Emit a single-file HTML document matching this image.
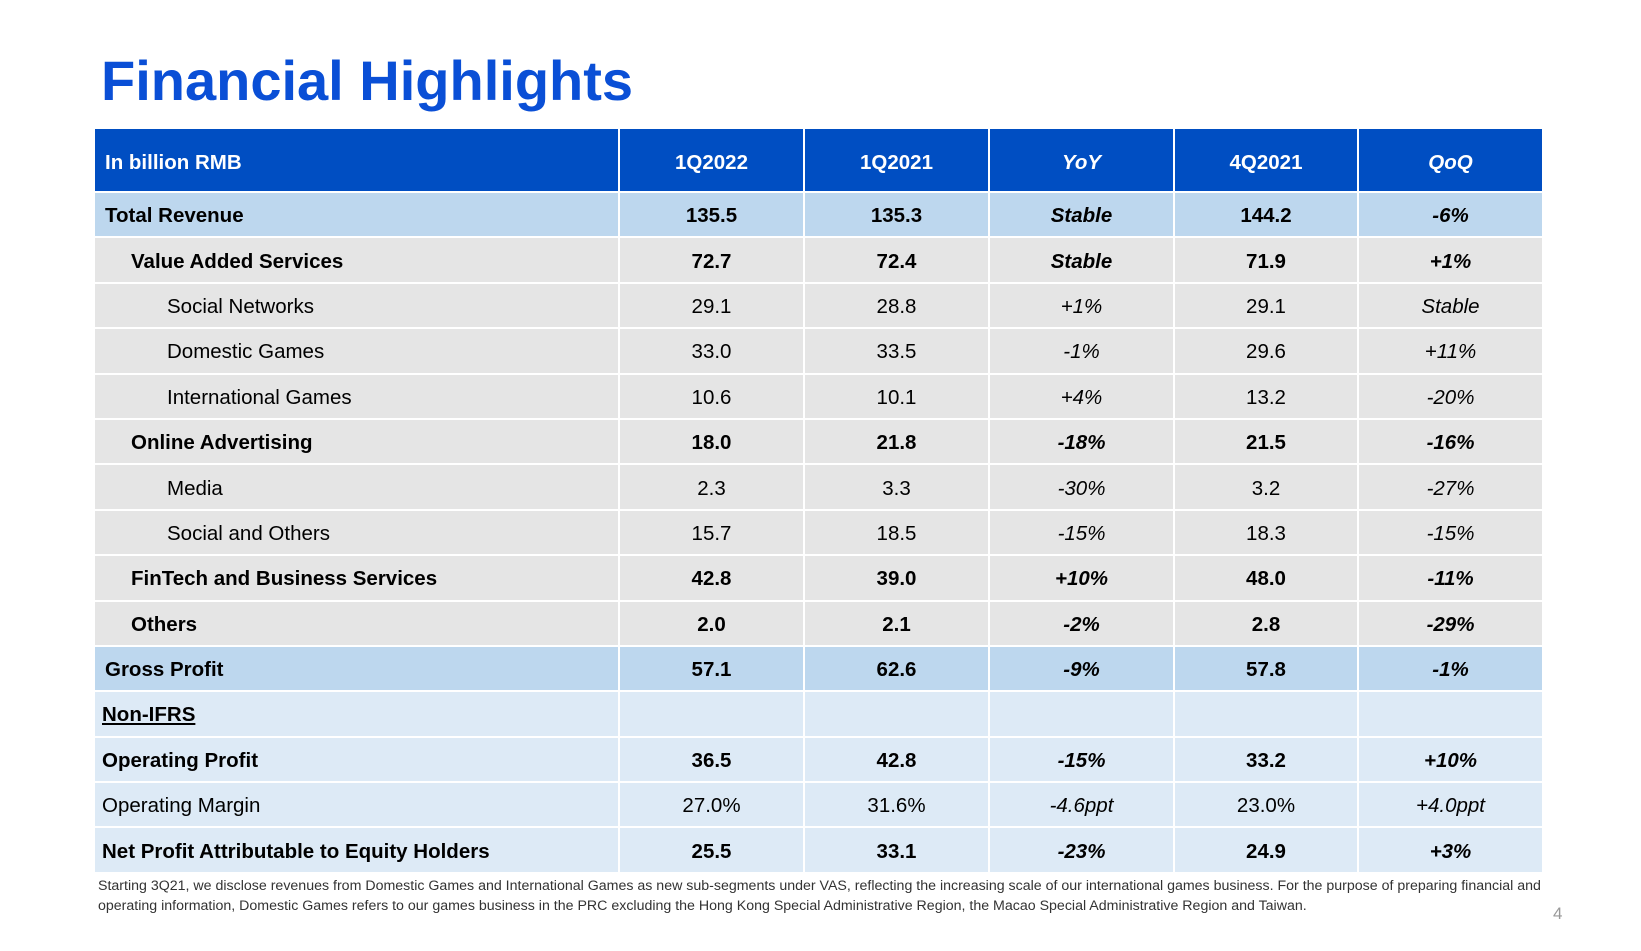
<!DOCTYPE html>
<html><head><meta charset="utf-8"><style>
body{margin:0;width:1641px;height:951px;background:#fff;font-family:"Liberation Sans",Arial,sans-serif;position:relative;overflow:hidden}
h1{position:absolute;left:101px;top:48px;margin:0;font-size:56px;color:#0a4fd6;font-weight:bold;letter-spacing:0}
table{position:absolute;left:95px;top:129px;border-collapse:collapse;table-layout:fixed;width:1456px}
td,th{height:40.4px;padding:3px 0 0 0;border:2px solid #fff;font-size:20.5px;text-align:center;color:#000}
th{background:#004ec2;color:#fff;height:57px;padding-top:5px;font-weight:bold;border-top:none}
th:first-child,td:first-child{text-align:left;border-left:none}
th:last-child,td:last-child{border-right:none}
tr.t td{background:#bdd7ee;font-weight:bold}
tr.g td{background:#e5e5e5}
tr.l td{background:#ddeaf6}
.b td{font-weight:bold}
.i{font-style:italic}
.p0{padding-left:10px}.p1{padding-left:36px}.p2{padding-left:72px}.p3{padding-left:7px}
.foot{position:absolute;left:98px;top:876px;font-size:14.2px;color:#333;line-height:20px;width:1456px}
.pg{position:absolute;left:1553px;top:904px;font-size:17px;color:#999}
</style></head><body>
<h1>Financial Highlights</h1>
<table style="width:1447px">
<colgroup><col style="width:524px"><col style="width:185px"><col style="width:185px"><col style="width:185px"><col style="width:184px"><col style="width:184px"></colgroup>
<tr><th class="p0">In billion RMB</th><th>1Q2022</th><th>1Q2021</th><th class="i">YoY</th><th>4Q2021</th><th class="i">QoQ</th></tr>
<tr class="t"><td class="p0">Total Revenue</td><td>135.5</td><td>135.3</td><td class="i">Stable</td><td>144.2</td><td class="i">-6%</td></tr>
<tr class="g b"><td class="p1">Value Added Services</td><td>72.7</td><td>72.4</td><td class="i">Stable</td><td>71.9</td><td class="i">+1%</td></tr>
<tr class="g"><td class="p2">Social Networks</td><td>29.1</td><td>28.8</td><td class="i">+1%</td><td>29.1</td><td class="i">Stable</td></tr>
<tr class="g"><td class="p2">Domestic Games</td><td>33.0</td><td>33.5</td><td class="i">-1%</td><td>29.6</td><td class="i">+11%</td></tr>
<tr class="g"><td class="p2">International Games</td><td>10.6</td><td>10.1</td><td class="i">+4%</td><td>13.2</td><td class="i">-20%</td></tr>
<tr class="g b"><td class="p1">Online Advertising</td><td>18.0</td><td>21.8</td><td class="i">-18%</td><td>21.5</td><td class="i">-16%</td></tr>
<tr class="g"><td class="p2">Media</td><td>2.3</td><td>3.3</td><td class="i">-30%</td><td>3.2</td><td class="i">-27%</td></tr>
<tr class="g"><td class="p2">Social and Others</td><td>15.7</td><td>18.5</td><td class="i">-15%</td><td>18.3</td><td class="i">-15%</td></tr>
<tr class="g b"><td class="p1">FinTech and Business Services</td><td>42.8</td><td>39.0</td><td class="i">+10%</td><td>48.0</td><td class="i">-11%</td></tr>
<tr class="g b"><td class="p1">Others</td><td>2.0</td><td>2.1</td><td class="i">-2%</td><td>2.8</td><td class="i">-29%</td></tr>
<tr class="t"><td class="p0">Gross Profit</td><td>57.1</td><td>62.6</td><td class="i">-9%</td><td>57.8</td><td class="i">-1%</td></tr>
<tr class="l b"><td class="p3"><u>Non-IFRS</u></td><td></td><td></td><td></td><td></td><td></td></tr>
<tr class="l b"><td class="p3">Operating Profit</td><td>36.5</td><td>42.8</td><td class="i">-15%</td><td>33.2</td><td class="i">+10%</td></tr>
<tr class="l"><td class="p3">Operating Margin</td><td>27.0%</td><td>31.6%</td><td class="i">-4.6ppt</td><td>23.0%</td><td class="i">+4.0ppt</td></tr>
<tr class="l b"><td class="p3">Net Profit Attributable to Equity Holders</td><td>25.5</td><td>33.1</td><td class="i">-23%</td><td>24.9</td><td class="i">+3%</td></tr>
</table>
<div class="foot">Starting 3Q21, we disclose revenues from Domestic Games and International Games as new sub-segments under VAS, reflecting the increasing scale of our international games business. For the purpose of preparing financial and operating information, Domestic Games refers to our games business in the PRC excluding the Hong Kong Special Administrative Region, the Macao Special Administrative Region and Taiwan.</div>
<div class="pg">4</div>
</body></html>
